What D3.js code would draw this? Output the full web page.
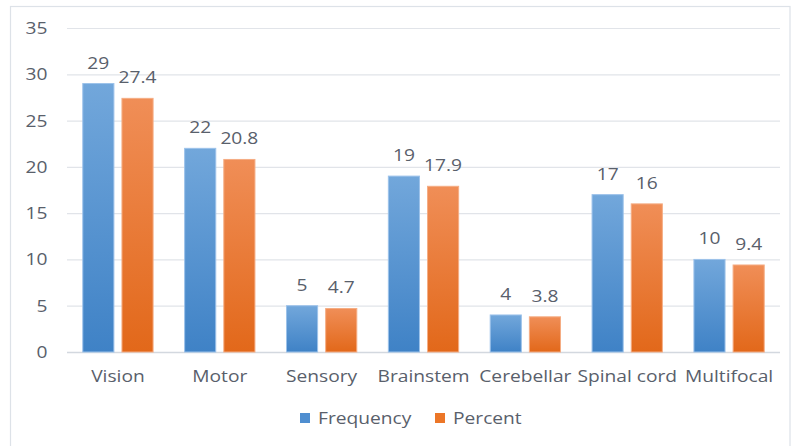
<!DOCTYPE html>
<html>
<head>
<meta charset="utf-8">
<script src="https://cdn.jsdelivr.net/npm/d3@7"></script>
<style>
  html, body { margin: 0; padding: 0; background: #fff; }
  svg { display: block; }
  text { font-family: "Open Sans", "Noto Sans", sans-serif; fill: #59606b; }
</style>
</head>
<body>
<svg id="chart" width="791" height="446"></svg>
<script>
// Lesion sites and their counts / share
const categories = ["Vision", "Motor", "Sensory", "Brainstem", "Cerebellar", "Spinal cord", "Multifocal"];
const seriesNames = ["Frequency", "Percent"];
const frequency = [29, 22, 5, 19, 4, 17, 10];
const percent = [27.4, 20.8, 4.7, 17.9, 3.8, 16, 9.4];
const yTicks = [0, 5, 10, 15, 20, 25, 30, 35];

const rows = categories.map((c, i) => ({
  category: c,
  values: [
    { key: "Frequency", value: frequency[i] },
    { key: "Percent", value: percent[i] }
  ]
}));

const svg = d3.select("#chart");
const W = 791, H = 446;
const plot = { left: 67, right: 780, top: 28, bottom: 352 };
const stretch = 1.2;   // horizontal widening applied to all labels

// outer frame
svg.append("rect")
  .attr("x", 10.5).attr("y", 6.5)
  .attr("width", 790 - 10.5).attr("height", H)
  .attr("fill", "none").attr("stroke", "#dde2e8").attr("stroke-width", 1.2);

// gradients for the bars
const defs = svg.append("defs");
const grads = {
  Frequency: ["#72a7db", "#3f82c6"],
  Percent: ["#f08e57", "#e2681a"]
};
Object.entries(grads).forEach(([k, [top, bot]]) => {
  const g = defs.append("linearGradient").attr("id", "g-" + k)
    .attr("x1", 0).attr("y1", 0).attr("x2", 0).attr("y2", 1);
  g.append("stop").attr("offset", "0%").attr("stop-color", top);
  g.append("stop").attr("offset", "100%").attr("stop-color", bot);
});
const edge = { Frequency: "#9cc2ea", Percent: "#f5ad84" };
const swatch = { Frequency: "#4f8ed0", Percent: "#ec7628" };

const y = d3.scaleLinear().domain([0, 35]).range([plot.bottom, plot.top]);
const x0 = d3.scaleBand().domain(categories)
  .range([plot.left, plot.right]).paddingInner(0.3).paddingOuter(0.15);
const x1 = d3.scaleBand().domain(seriesNames)
  .range([0, x0.bandwidth()]).paddingInner(0.18).paddingOuter(0);

// horizontal gridlines via axis
const grid = svg.append("g")
  .attr("transform", `translate(${plot.left},0)`)
  .call(d3.axisRight(y).tickValues(yTicks).tickSize(plot.right - plot.left).tickFormat(""));
grid.select(".domain").remove();
grid.selectAll(".tick line")
  .attr("stroke", (d) => d === 0 ? "#d3d8df" : "#e1e4e9")
  .attr("stroke-width", (d) => d === 0 ? 1.4 : 1.2);

// y tick labels
const yAxis = svg.append("g")
  .attr("transform", `translate(47.5,0)`)
  .call(d3.axisLeft(y).tickValues(yTicks).tickSize(0).tickPadding(0));
yAxis.select(".domain").remove();
yAxis.selectAll(".tick text").remove();
yAxis.selectAll(".tick").append("text")
  .attr("text-anchor", "end")
  .attr("transform", `translate(0,5.5) scale(${stretch},1)`)
  .style("font-size", "16px")
  .text((d) => d);

// bars
const groups = svg.append("g").selectAll("g")
  .data(rows).join("g")
  .attr("transform", (d) => `translate(${x0(d.category)},0)`);

groups.selectAll("rect")
  .data((d) => d.values).join("rect")
  .attr("x", (d) => x1(d.key) + 0.5)
  .attr("y", (d) => y(d.value))
  .attr("width", x1.bandwidth() - 1)
  .attr("height", (d) => y(0) - y(d.value))
  .attr("fill", (d) => `url(#g-${d.key})`)
  .attr("stroke", (d) => edge[d.key])
  .attr("stroke-width", 1);

// value labels above bars
groups.selectAll("text.val")
  .data((d) => d.values).join("text")
  .attr("class", "val")
  .attr("text-anchor", "middle")
  .attr("transform", (d) => `translate(${x1(d.key) + x1.bandwidth() / 2},${y(d.value) - 15}) scale(${stretch},1)`)
  .style("font-size", "16px")
  .text((d) => d.value);

// category axis labels
const xAxis = svg.append("g")
  .attr("transform", `translate(0,${plot.bottom})`)
  .call(d3.axisBottom(x0).tickSize(0).tickPadding(0));
xAxis.select(".domain").remove();
xAxis.selectAll(".tick text").remove();
xAxis.selectAll(".tick").append("text")
  .attr("text-anchor", "middle")
  .attr("transform", `translate(0,30) scale(${stretch},1)`)
  .style("font-size", "16px")
  .text((d) => d);

// legend
const legendItems = [
  { key: "Frequency", x: 300 },
  { key: "Percent", x: 435 }
];
const legend = svg.append("g");
legendItems.forEach((it) => {
  legend.append("rect")
    .attr("x", it.x).attr("y", 413)
    .attr("width", 10).attr("height", 10)
    .attr("fill", swatch[it.key]);
  legend.append("text")
    .attr("transform", `translate(${it.x + 18},424) scale(${stretch},1)`)
    .style("font-size", "16px")
    .text(it.key);
});
</script>
</body>
</html>
